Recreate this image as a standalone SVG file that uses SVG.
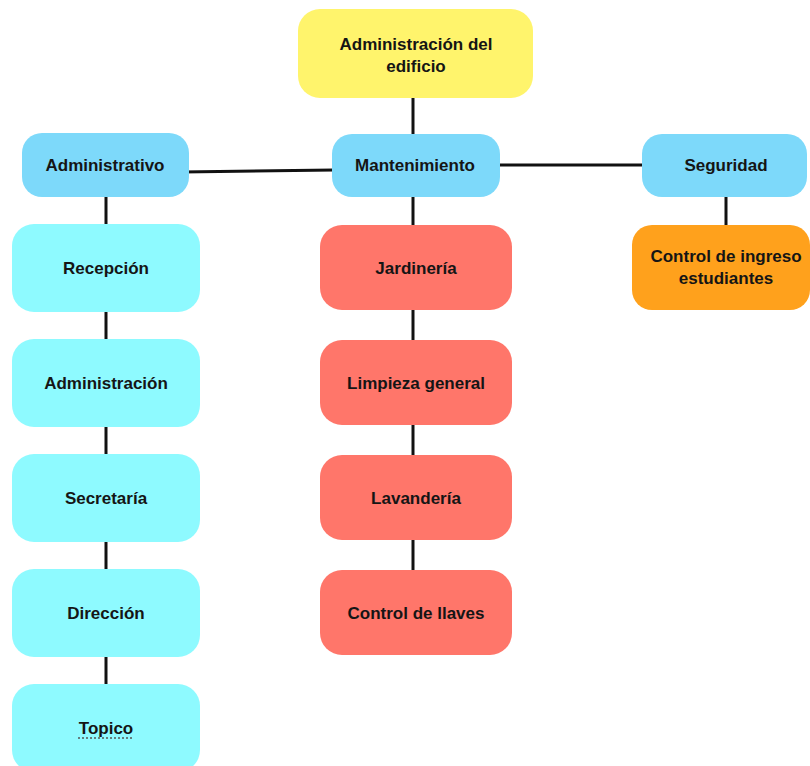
<svg xmlns="http://www.w3.org/2000/svg" width="810" height="766" viewBox="0 0 810 766">
<defs>
<style>
.t{font-family:"Liberation Sans",Arial,sans-serif;font-weight:bold;font-size:17px;fill:#151515;text-anchor:middle;dominant-baseline:central}
.yel{fill:#FFF46C}
.blu{fill:#7DD9FA}
.cya{fill:#8EFAFF}
.red{fill:#FF766A}
.org{fill:#FFA11C}
.ln{stroke:#111;stroke-width:3;fill:none}
</style>
</defs>
<rect width="810" height="766" fill="#fff"/>
<g id="connectors">
<line class="ln" x1="413" y1="97" x2="413" y2="135"/>
<line class="ln" x1="182" y1="172" x2="334" y2="170"/>
<line class="ln" x1="494" y1="165" x2="644" y2="165"/>
<line class="ln" x1="106" y1="196" x2="106" y2="229"/>
<line class="ln" x1="413" y1="196" x2="413" y2="230"/>
<line class="ln" x1="726" y1="193" x2="726" y2="230"/>
<line class="ln" x1="106" y1="310" x2="106" y2="343"/>
<line class="ln" x1="106" y1="424" x2="106" y2="458"/>
<line class="ln" x1="106" y1="539" x2="106" y2="573"/>
<line class="ln" x1="106" y1="654" x2="106" y2="688"/>
<line class="ln" x1="413" y1="308" x2="413" y2="344"/>
<line class="ln" x1="413" y1="423" x2="413" y2="459"/>
<line class="ln" x1="413" y1="538" x2="413" y2="574"/>
</g>
<g id="n-admin-edificio"><rect class="yel" x="298" y="9" width="235" height="89" rx="22"/><text class="t" x="416" y="44">Administración del</text><text class="t" x="416" y="66">edificio</text></g>
<g id="n-administrativo"><rect class="blu" x="22" y="133" width="167" height="64" rx="20"/><text class="t" x="105" y="165">Administrativo</text></g>
<g id="n-mantenimiento"><rect class="blu" x="332" y="134" width="168" height="63" rx="20"/><text class="t" x="415" y="165">Mantenimiento</text></g>
<g id="n-seguridad"><rect class="blu" x="642" y="134" width="165" height="63" rx="20"/><text class="t" x="726" y="165">Seguridad</text></g>
<g id="n-control-ingreso"><rect class="org" x="632" y="225" width="178" height="85" rx="20"/><text class="t" x="726" y="256">Control de ingreso</text><text class="t" x="726" y="278">estudiantes</text></g>
<g id="n-recepcion"><rect class="cya" x="12" y="224" width="188" height="88" rx="22"/><text class="t" x="106" y="268">Recepción</text></g>
<g id="n-administracion"><rect class="cya" x="12" y="339" width="188" height="88" rx="22"/><text class="t" x="106" y="383">Administración</text></g>
<g id="n-secretaria"><rect class="cya" x="12" y="454" width="188" height="88" rx="22"/><text class="t" x="106" y="498">Secretaría</text></g>
<g id="n-direccion"><rect class="cya" x="12" y="569" width="188" height="88" rx="22"/><text class="t" x="106" y="613">Dirección</text></g>
<g id="n-topico"><rect class="cya" x="12" y="684" width="188" height="88" rx="22"/><text class="t" x="106" y="728">Topico</text><line x1="78" y1="738" x2="134" y2="738" stroke="#555" stroke-width="1.5" stroke-dasharray="2 2"/></g>
<g id="n-jardineria"><rect class="red" x="320" y="225" width="192" height="85" rx="22"/><text class="t" x="416" y="268">Jardinería</text></g>
<g id="n-limpieza"><rect class="red" x="320" y="340" width="192" height="85" rx="22"/><text class="t" x="416" y="383">Limpieza general</text></g>
<g id="n-lavanderia"><rect class="red" x="320" y="455" width="192" height="85" rx="22"/><text class="t" x="416" y="498">Lavandería</text></g>
<g id="n-llaves"><rect class="red" x="320" y="570" width="192" height="85" rx="22"/><text class="t" x="416" y="613">Control de llaves</text></g>
</svg>
